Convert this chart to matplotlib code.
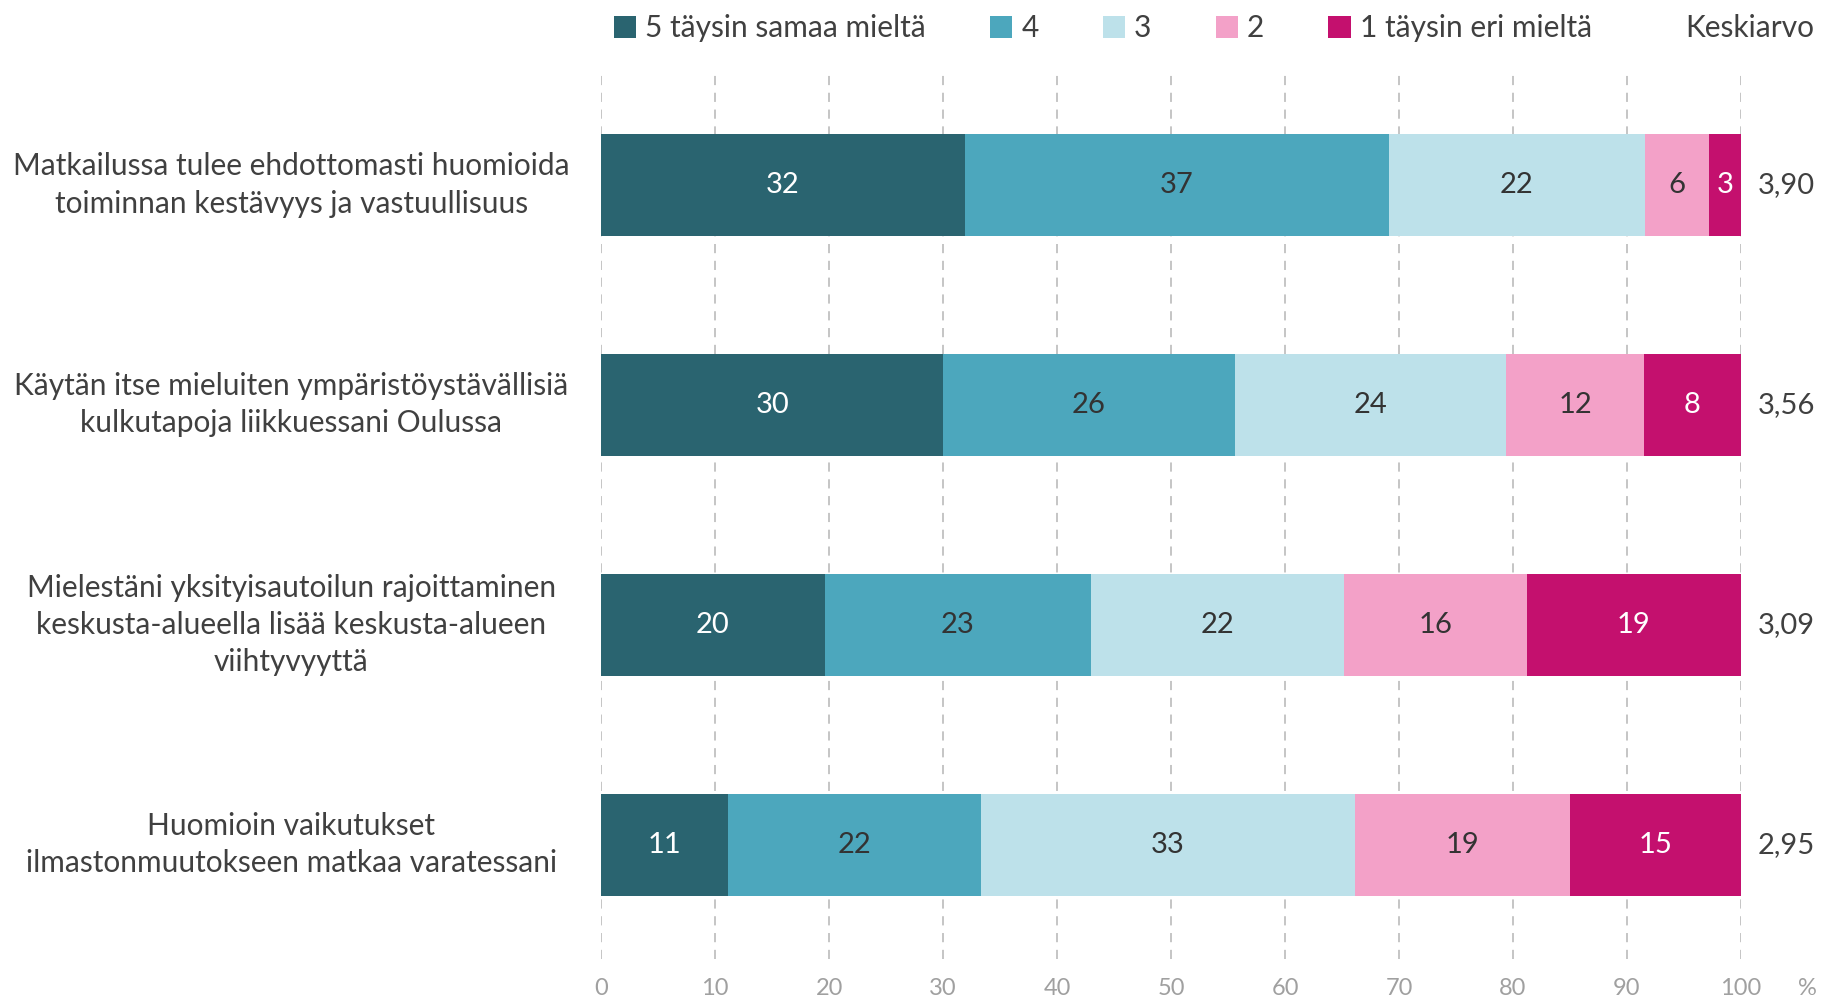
import numpy as np
import matplotlib.pyplot as plt
from matplotlib.transforms import blended_transform_factory

plt.rcParams['font.family'] = ['Lato', 'DejaVu Sans']

categories = [
    'Matkailussa tulee ehdottomasti huomioida\ntoiminnan kestävyys ja vastuullisuus',
    'Käytän itse mieluiten ympäristöystävällisiä\nkulkutapoja liikkuessani Oulussa',
    'Mielestäni yksityisautoilun rajoittaminen\nkeskusta-alueella lisää keskusta-alueen\nviihtyvyyttä',
    'Huomioin vaikutukset\nilmastonmuutokseen matkaa varatessani',
]
series_names = ['5 täysin samaa mieltä', '4', '3', '2', '1 täysin eri mieltä']
# share of answers (%) per answer option, one list per option
s5 = [31.9, 30.0, 19.6, 11.1]
s4 = [37.2, 25.6, 23.4, 22.2]
s3 = [22.5, 23.8, 22.2, 32.8]
s2 = [5.6, 12.1, 16.0, 18.9]
s1 = [2.8, 8.5, 18.8, 15.0]
means = ['3,90', '3,56', '3,09', '2,95']
xticks = [0, 10, 20, 30, 40, 50, 60, 70, 80, 90, 100]

colors = ['#2a6470', '#4ca7bd', '#bde1ea', '#f3a1c8', '#c4106e']
text_colors = ['white', '#333333', '#333333', '#333333', 'white']

fig = plt.figure(figsize=(18.22, 10.01), dpi=100)
ax = fig.add_axes([0.330, 0.042, 0.6255, 0.883])

y = np.arange(len(categories))
left = np.zeros(len(categories))
handles = []
for vals, name, c, tc in zip([s5, s4, s3, s2, s1], series_names, colors, text_colors):
    vals = np.array(vals)
    b = ax.barh(y, vals, left=left, height=0.465, color=c, label=name, zorder=2)
    handles.append(b)
    for yi, l, v in zip(y, left, vals):
        ax.text(l + v / 2, yi, f'{v:.0f}', ha='center', va='center',
                fontsize=21, color=tc, zorder=3)
    left += vals

ax.set_xlim(0, 100)
ax.set_ylim(3.52, -0.5)
ax.set_xticks(xticks)
ax.set_xticklabels([str(t) for t in xticks], fontsize=17, color='#a0a0a0')
ax.tick_params(axis='x', length=0, pad=14)
ax.set_yticks([])
for s in ax.spines.values():
    s.set_visible(False)
ax.grid(axis='x', color='#b5b5b5', linestyle=(0, (6, 5)), linewidth=1.1, zorder=1)

for yi, cat in zip(y, categories):
    ax.text(-0.272, yi, cat, transform=ax.get_yaxis_transform(), ha='center',
            va='center', fontsize=21.5, color='#404040', linespacing=1.4)

for yi, m in zip(y, means):
    ax.text(101.5, yi, m, ha='left', va='center', fontsize=21, color='#404040')

ax.text(105.0, -0.0215, '%', ha='left', va='top', fontsize=17, color='#a0a0a0',
        transform=blended_transform_factory(ax.transData, ax.transAxes))

fig.legend(handles=handles, labels=series_names, ncol=5, loc='center left',
           bbox_to_anchor=(0.322, 0.972), frameon=False, fontsize=21.5,
           handlelength=0.75, handleheight=0.75, handletextpad=0.3,
           columnspacing=2.15, labelcolor='#404040')
fig.text(0.996, 0.972, 'Keskiarvo', ha='right', va='center', fontsize=21.5,
         color='#404040')

fig.savefig('out.png', dpi=100)
